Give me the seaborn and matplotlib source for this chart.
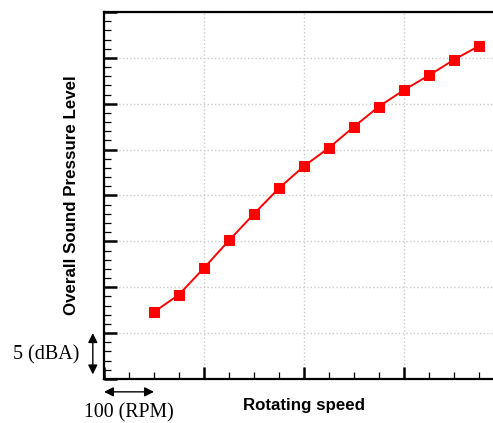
import matplotlib
matplotlib.use("Agg")
import matplotlib.pyplot as plt
import seaborn as sns
import pandas as pd
from matplotlib.ticker import MultipleLocator

# Data (relative units: RPM offset, dBA offset)
rotating_speed = [100, 150, 200, 250, 300, 350, 400, 450, 500, 550, 600, 650, 700, 750]
sound_level = [7.3, 9.2, 12.1, 15.1, 18.0, 20.8, 23.2, 25.2, 27.5, 29.7, 31.5, 33.1, 34.8, 36.3]

df = pd.DataFrame({"speed": rotating_speed, "spl": sound_level})

sns.set_theme(style="white")
plt.rcParams["font.family"] = ["Liberation Sans", "DejaVu Sans"]

fig = plt.figure(figsize=(4.93, 4.23), dpi=100)
W, H = 493, 423
ax = fig.add_axes([104 / W, 1 - 379 / H, 400 / W, 367 / H])

sns.lineplot(data=df, x="speed", y="spl", ax=ax, color="#ff0000", linewidth=1.4,
             marker="s", markersize=6.8, markeredgecolor="#ff0000", markerfacecolor="#ff0000")

ax.set_xlim(0, 800)
ax.set_ylim(0, 40)
ax.xaxis.set_major_locator(MultipleLocator(200))
ax.xaxis.set_minor_locator(MultipleLocator(50))
ax.yaxis.set_major_locator(MultipleLocator(5))
ax.yaxis.set_minor_locator(MultipleLocator(1))
ax.tick_params(which="major", direction="in", length=9, width=1.8, color="black",
               labelbottom=False, labelleft=False, bottom=True, left=True, top=False, right=False)
ax.tick_params(which="minor", direction="in", length=5, width=0.9, color="black",
               bottom=True, left=True, top=False, right=False)

ax.grid(True, which="major", linestyle=":", color="#cccccc", linewidth=1.0)
for s in ["left", "bottom", "top"]:
    ax.spines[s].set_color("black")
    ax.spines[s].set_linewidth(1.6)
ax.spines["right"].set_visible(False)

ax.set_xlabel("Rotating speed", fontsize=12.2, fontweight="bold", color="black")
ax.set_ylabel("Overall Sound Pressure Level", fontsize=12.2, fontweight="bold", color="black")
ax.xaxis.set_label_coords(0.5, -0.052)
ax.yaxis.set_label_coords(-0.063, 0.5)

# Scale annotations
ax.annotate("", xy=(0, -0.035), xytext=(100, -0.035),
            xycoords=("data", "axes fraction"), textcoords=("data", "axes fraction"),
            arrowprops=dict(arrowstyle="<|-|>", color="black", lw=1.0, mutation_scale=14,
                            shrinkA=0, shrinkB=0), annotation_clip=False)
fig.text(129 / W, 1 - 413 / H, "100 (RPM)", family="Liberation Serif", fontsize=14.3,
         ha="center", va="center", color="black")

ax.annotate("", xy=(-0.028, 0.5), xytext=(-0.028, 5),
            xycoords=("axes fraction", "data"), textcoords=("axes fraction", "data"),
            arrowprops=dict(arrowstyle="<|-|>", color="black", lw=1.0, mutation_scale=14,
                            shrinkA=0, shrinkB=0), annotation_clip=False)
fig.text(46.5 / W, 1 - 355 / H, "5 (dBA)", family="Liberation Serif", fontsize=14.5,
         ha="center", va="center", color="black")

fig.savefig("out.png", dpi=100)
